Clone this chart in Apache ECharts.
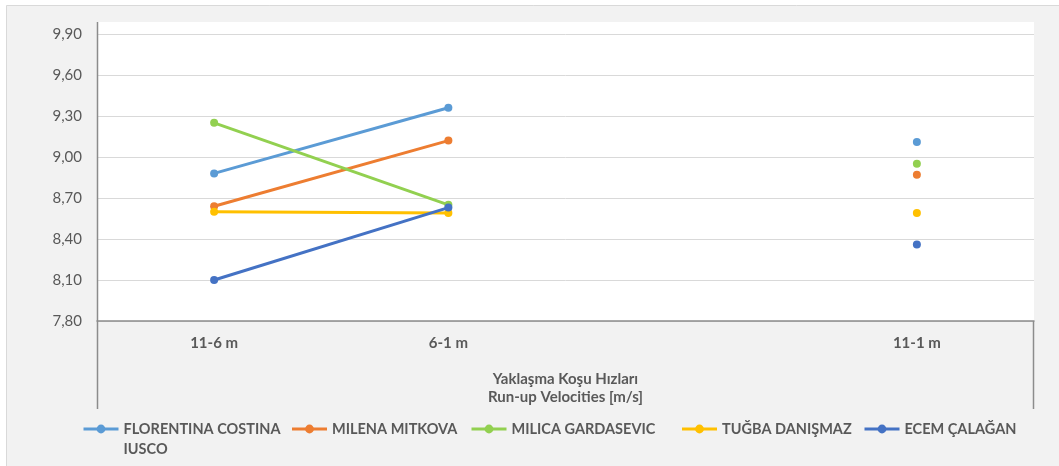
<!DOCTYPE html>
<html>
<head>
<meta charset="utf-8">
<script src="https://cdn.jsdelivr.net/npm/echarts@6/dist/echarts.min.js"></script>
<style>
  html, body { margin: 0; padding: 0; background: #fff; }
  #chart { width: 1059px; height: 466px; }
</style>
</head>
<body>
<div id="chart"></div>
<script>
const categories = ['11-6 m', '6-1 m', '', '11-1 m']
const athletes = ['FLORENTINA COSTINA IUSCO', 'MILENA MITKOVA', 'MILICA GARDASEVIC', 'TUĞBA DANIŞMAZ', 'ECEM ÇALAĞAN']
const colors = ['#5B9BD5', '#ED7D31', '#92D050', '#FFC000', '#4472C4']

const florentina = [8.88, 9.36, null, 9.11]
const milena = [8.64, 9.12, null, 8.87]
const milica = [9.25, 8.65, null, 8.95]
const tugba = [8.60, 8.59, null, 8.59]
const ecem = [8.10, 8.63, null, 8.36]
const seriesValues = [florentina, milena, milica, tugba, ecem]

const yTicks = { min: 7.8, max: 9.9, step: 0.3 }
const axisTitle = 'Yaklaşma Koşu Hızları\nRun-up Velocities [m/s]'

const font = 'Lato, "Open Sans", sans-serif'
const textGray = '#595959'
const axisGray = '#8c8c8c'
// legend label boxes, so the items sit where Excel put them
const legendTextWidths = [157, 128, 159, 131, 140]

const chart = echarts.init(document.getElementById('chart'))

const option = {
  backgroundColor: '#fff',
  animation: false,
  textStyle: { fontFamily: font },
  graphic: [
    // chart area frame
    { type: 'rect', z: -20, shape: { x: 6.5, y: 5.5, width: 1100, height: 500 },
      style: { fill: '#f2f2f2', stroke: '#d9d9d9', lineWidth: 1 } },
    // white plot area
    { type: 'rect', z: -10, shape: { x: 97, y: 22, width: 937, height: 299 },
      style: { fill: '#ffffff' } },
    // vertical axis line + category box sides
    { type: 'line', z: 10, shape: { x1: 97.5, y1: 22, x2: 97.5, y2: 409 },
      style: { stroke: axisGray, lineWidth: 1.5 } },
    { type: 'line', z: 10, shape: { x1: 1033.5, y1: 321, x2: 1033.5, y2: 409 },
      style: { stroke: axisGray, lineWidth: 1.5 } }
  ],
  grid: { left: 97, right: 25, top: 34, bottom: 145, containLabel: false },
  legend: {
    left: 82,
    top: 399,
    padding: 0,
    itemWidth: 35,
    itemHeight: 11,
    itemGap: 10,
    data: athletes.map((name, i) => ({ name, textStyle: { width: legendTextWidths[i] } })),
    lineStyle: { width: 3 },
    itemStyle: { borderWidth: 0 },
    formatter: name => name === athletes[0] ? '\nFLORENTINA COSTINA\nIUSCO' : name,
    textStyle: { color: textGray, fontSize: 14.5, fontWeight: 'bold', fontFamily: font, lineHeight: 20 }
  },
  xAxis: {
    type: 'category',
    data: categories,
    boundaryGap: true,
    name: axisTitle,
    nameLocation: 'middle',
    nameGap: 49,
    nameTextStyle: { color: textGray, fontSize: 15, fontWeight: 'bold', lineHeight: 18, fontFamily: font },
    axisLine: { show: true, lineStyle: { color: axisGray, width: 1.5 } },
    axisTick: { show: false },
    axisLabel: { color: textGray, fontSize: 15, fontWeight: 'bold', margin: 15, fontFamily: font },
    splitLine: { show: false }
  },
  yAxis: {
    type: 'value',
    min: yTicks.min,
    max: yTicks.max,
    interval: yTicks.step,
    axisLine: { show: false },
    axisTick: { show: false },
    axisLabel: {
      color: textGray, fontSize: 15, margin: 15, fontFamily: font,
      formatter: v => v.toFixed(2).replace('.', ',')
    },
    splitLine: { lineStyle: { color: '#d9d9d9', width: 1 } }
  },
  series: athletes.map((name, i) => ({
    name,
    type: 'line',
    data: seriesValues[i],
    connectNulls: false,
    symbol: 'circle',
    symbolSize: 8,
    color: colors[i],
    lineStyle: { width: 3, color: colors[i] },
    itemStyle: { color: colors[i] }
  }))
}

chart.setOption(option)
</script>
</body>
</html>
